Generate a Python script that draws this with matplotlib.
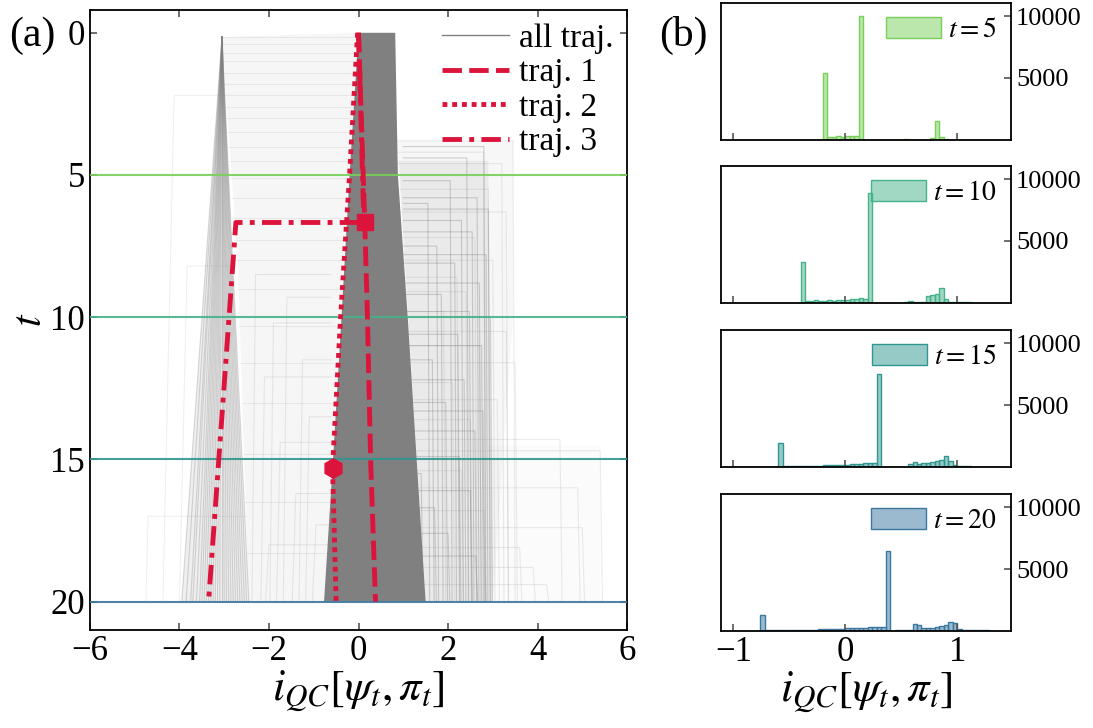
import numpy as np
import matplotlib.pyplot as plt
from matplotlib.lines import Line2D
from matplotlib.colors import to_rgba

plt.rcParams['font.family'] = ['Liberation Serif', 'DejaVu Serif']
plt.rcParams['mathtext.fontset'] = 'stix'

# ---------------- panel (a): bundle of trajectories ----
# dense central branch
core_t = [0, 5, 10, 15, 20]
core_lo = [0.0, -0.2, -0.38, -0.57, -0.77]
core_hi = [0.82, 0.88, 1.1, 1.3, 1.5]

# left branch: lines leave one apex and fan out down to t = 20
fan_apex = (-3.05, 0.15)
fan_end_x = [-3.95, -3.85, -3.75, -3.7, -3.62, -3.55, -3.5, -3.45, -3.4, -3.35,
             -3.3, -3.25, -3.2, -3.15, -3.1, -3.05, -3.0, -2.95, -2.9, -2.85,
             -2.8, -2.75, -2.7, -2.65, -2.6, -2.55, -2.5, -2.45]

# washes of faint lines
wash_left_t = [0.15, 8, 20, 20, 0]
wash_left_x = [-3.05, -2.7, -2.45, -0.77, 0.0]
wash_right_t = [3.8, 20, 20, 10, 3.8]
wash_right_x = [0.86, 1.5, 3.0, 3.45, 3.45]
band_fill_t = [4.5, 20, 20, 4.5]
band_fill_x = [0.9, 1.5, 3.0, 2.9]
far_t = [14.5, 20, 20, 14.5]
far_x = [2.9, 3.0, 5.4, 5.4]

# horizontal jumps towards the left branch
left_jump_t = [0.15, 0.4, 0.7, 1.0, 1.4, 1.8, 2.2, 2.6, 3.0, 3.5, 4.0, 4.5, 5.1,
               5.8, 6.5, 7.3, 8.0, 9.0, 10.3, 11.6, 13.0, 14.8, 16.5, 18.3]
left_jump_x0 = [-3.05, -3.05, -3.05, -3.04, -3.03, -3.02, -3.0, -2.98, -2.96,
                -2.94, -2.92, -2.9, -2.88, -2.85, -2.82, -2.8, -2.77, -2.73,
                -2.7, -2.66, -2.62, -2.58, -2.55, -2.5]
left_jump_x1 = [0.0, -0.02, -0.03, -0.04, -0.06, -0.07, -0.09, -0.1, -0.12,
                -0.14, -0.16, -0.18, -0.2, -0.23, -0.25, -0.28, -0.3, -0.34,
                -0.39, -0.44, -0.49, -0.56, -0.63, -0.7]

# trajectories that settle between the two left branches
mid_t = [8.5, 9.3, 10.2, 11.5, 12.1, 13.5, 14.4, 16.2, 17.3, 18.0]
mid_x = [-2.3, -1.6, -1.9, -1.25, -2.1, -1.1, -1.75, -1.4, -0.95, -2.0]

# horizontal jumps towards the right branch, then drift down to t = 20
right_jump_t = [3.8, 4.2, 4.6, 5.5, 6.3, 7.2, 8.0, 8.6, 9.1, 9.8, 10.5, 11.0,
                11.6, 12.3, 12.9, 13.6, 14.3, 14.7, 15.4, 16.0, 16.8, 17.4,
                18.1, 18.8, 19.4]
right_jump_x = [3.45, 2.8, 3.2, 2.9, 3.3, 2.6, 3.0, 2.2, 2.4, 1.9, 3.3, 2.7,
                3.5, 2.1, 3.1, 2.5, 4.5, 5.4, 2.3, 4.9, 2.8, 5.0, 3.6, 3.9, 4.2]
right_jump_x0 = [0.86, 0.86, 0.87, 0.88, 0.9, 0.93, 0.97, 1.0, 1.02, 1.06, 1.1,
                 1.12, 1.15, 1.18, 1.2, 1.23, 1.27, 1.29, 1.32, 1.35, 1.38, 1.4,
                 1.43, 1.45, 1.48]

# denser band of the right branch
band_x = [1.55, 1.65, 1.75, 1.85, 1.95, 2.05, 2.15, 2.22, 2.3, 2.36, 2.42, 2.48,
          2.54, 2.6, 2.65, 2.7, 2.75, 2.8, 2.85, 2.9, 2.95, 1.4, 1.7, 2.0, 2.25,
          2.5, 2.62, 2.78]
band_t = [6.0, 11.5, 7.5, 9.2, 13.0, 5.2, 8.1, 10.6, 6.6, 12.2, 4.4, 9.8, 7.0,
          14.0, 5.8, 8.8, 11.0, 4.0, 7.8, 6.2, 10.0, 15.5, 16.7, 17.6, 14.9,
          16.1, 18.4, 13.3]

# a few isolated trajectories far on the left
out_x = [[-3.0, -4.12, -4.37], [-2.8, -3.83, -4.0], [-2.5, -4.7, -4.75]]
out_t = [[2.2, 2.2, 20], [8.2, 8.2, 20], [17.0, 17.0, 20]]

# highlighted trajectories
traj1_x = [0.0, 0.14, 0.2, 0.27, 0.38]
traj1_t = [0, 6.67, 10, 15, 20]
traj2_x = [-0.02, -0.2, -0.4, -0.58, -0.5]
traj2_t = [0, 5, 10, 15.3, 20]
traj3_x = [0.0, 0.12, -2.74, -3.35]
traj3_t = [0, 6.67, 6.67, 20]
jump_square = (0.14, 6.67)
jump_hexagon = (-0.58, 15.3)

times = [5, 10, 15, 20]
time_colors = ['#78d05a', '#45b38a', '#2f9690', '#3b77a0']

# ---------------- panel (b): histograms of i_QC (60 bins on [-1, 1.4]) -----
bin_edges = np.linspace(-1.0, 1.4, 61)

counts_t5 = np.zeros(60)
counts_t5[20:29] = [5400, 230, 250, 300, 250, 300, 300, 330, 10000]
counts_t5[38] = 80
counts_t5[44:48] = [160, 1520, 270, 80]

counts_t10 = np.zeros(60)
counts_t10[15:31] = [3280, 135, 135, 215, 160, 190, 215, 190, 215, 240, 240,
                     300, 300, 375, 320, 8840]
counts_t10[34:56] = [20, 20, 20, 20, 80, 160, 50, 50, 80, 540, 620, 750, 1180,
                     300, 110, 80, 50, 40, 40, 30, 30, 20]

counts_t15 = np.zeros(60)
counts_t15[0:10] = 10
counts_t15[10:33] = [1920, 60, 60, 70, 80, 80, 90, 100, 110, 120, 130, 140, 150,
                     160, 180, 200, 215, 230, 270, 300, 310, 330, 7510]
counts_t15[33:59] = [20, 20, 20, 25, 25, 30, 215, 400, 270, 300, 320, 400, 490,
                     600, 890, 460, 135, 80, 60, 50, 40, 30, 25, 20, 20, 15]

counts_t20 = np.zeros(60)
counts_t20[0:6] = 10
counts_t20[6:35] = [1300, 60, 60, 70, 70, 80, 80, 90, 90, 100, 110, 110, 120, 130,
                    140, 150, 160, 180, 200, 210, 220, 240, 260, 280, 300, 310,
                    330, 340, 6450]
counts_t20[35:59] = [30, 60, 70, 80, 80, 545, 460, 270, 270, 270, 330, 380, 490,
                     760, 625, 135, 110, 80, 70, 60, 50, 50, 40, 40]

hist_counts = [counts_t5, counts_t10, counts_t15, counts_t20]

# ---------------- figure ----------------
fig = plt.figure(figsize=(10.93, 7.28), dpi=100)
ax = fig.add_axes([0.0823, 0.1346, 0.4914, 0.8516])

g = 'gray'
ax.fill(wash_left_x, wash_left_t, color=g, alpha=0.07, lw=0)
ax.fill(wash_right_x, wash_right_t, color=g, alpha=0.06, lw=0)
ax.fill(band_fill_x, band_fill_t, color=g, alpha=0.1, lw=0)
ax.fill(far_x, far_t, color=g, alpha=0.03, lw=0)
ax.fill([fan_apex[0], fan_end_x[0], fan_end_x[-1]], [fan_apex[1], 20, 20],
        color=g, alpha=0.12, lw=0)

for xe in fan_end_x:
    ax.plot([fan_apex[0], xe], [fan_apex[1], 20], color=g, alpha=0.3, lw=0.8)
ax.hlines(left_jump_t, left_jump_x0, left_jump_x1, color=g, alpha=0.12, lw=0.8)

for t0, x0 in zip(mid_t, mid_x):
    ax.plot([-0.6, x0, x0 - 0.08], [t0, t0, 20], color=g, alpha=0.15, lw=0.8)

for t0, xa, xb in zip(right_jump_t, right_jump_x0, right_jump_x):
    ax.plot([xa, xb, xb + 0.05], [t0, t0, 20], color=g, alpha=0.15, lw=0.8)

for x0, t0 in zip(band_x, band_t):
    ax.plot([1.0, x0, x0 + 0.04], [t0, t0, 20], color=g, alpha=0.35, lw=0.8)

for xs, ts in zip(out_x, out_t):
    ax.plot(xs, ts, color=g, alpha=0.12, lw=0.8)

ax.fill(core_lo + core_hi[::-1], core_t + core_t[::-1], color=g, lw=0)

for t, c in zip(times, time_colors):
    ax.axhline(t, color=c, lw=1.5, alpha=0.9, zorder=3)

red = '#dc143c'
ax.plot(traj1_x, traj1_t, color=red, lw=3.5, ls=(0, (4, 1.5)), zorder=5)
ax.plot(traj2_x, traj2_t, color=red, lw=3.5, ls=(0, (1, 1)), zorder=5)
ax.plot(traj3_x, traj3_t, color=red, lw=3.5, ls=(0, (4, 1.5, 1, 1.5)), zorder=5)
ax.plot(*jump_square, marker='s', ms=12, color=red, zorder=6)
ax.plot(*jump_hexagon, marker='h', ms=14, color=red, zorder=6)

handles = [Line2D([], [], color='gray', lw=1),
           Line2D([], [], color=red, lw=3.5, ls=(0, (4, 1.5))),
           Line2D([], [], color=red, lw=3.5, ls=(0, (1, 1))),
           Line2D([], [], color=red, lw=3.5, ls=(0, (4, 1.5, 1, 1.5)))]
ax.legend(handles, ['all traj.', 'traj. 1', 'traj. 2', 'traj. 3'],
          loc='upper right', frameon=False, fontsize=24, handlelength=2.0,
          labelspacing=0.12, borderaxespad=0.0, handletextpad=0.3)

ax.set_xlim(-6, 6)
ax.set_ylim(21, -0.8)
ax.set_xticks(np.arange(-6, 7, 2))
ax.set_yticks([0, 5, 10, 15, 20])
ax.tick_params(direction='in', top=True, right=True, labelsize=25,
               color='#555555', length=5, width=1.2)
ax.set_xlabel(r'$i_{QC}[\psi_t,\pi_t]$', fontsize=32, labelpad=0)
ax.set_ylabel(r'$t$', fontsize=30, labelpad=0)
for s in ax.spines.values():
    s.set_linewidth(1.3)

# histograms
panel_bottoms = [0.8077, 0.5838, 0.3585, 0.1332]
hist_axes = []
centers = 0.5 * (bin_edges[:-1] + bin_edges[1:])
for i, (cnt, t, c) in enumerate(zip(hist_counts, times, time_colors)):
    hx = fig.add_axes([0.6597, panel_bottoms[i], 0.2653, 0.1882])
    hx.hist(centers, bins=bin_edges, weights=cnt, facecolor=to_rgba(c, 0.5),
            edgecolor=c, lw=1.0, label=rf'$t = {t}$')
    hx.set_xlim(-1.11, 1.48)
    hx.set_ylim(0, 11050)
    hx.set_yticks([5000, 10000])
    hx.set_xticks([-1, 0, 1])
    hx.yaxis.tick_right()
    hx.tick_params(direction='in', labelsize=19, color='#555555', length=5, width=1.2)
    hx.tick_params(axis='x', labelsize=25)
    if i < 3:
        hx.tick_params(labelbottom=False)
    for s in hx.spines.values():
        s.set_linewidth(1.3)
    hx.legend(loc='upper right', frameon=False, fontsize=20, handlelength=2.0,
              handleheight=0.8, borderaxespad=0.1, handletextpad=0.25)
    hist_axes.append(hx)

hist_axes[-1].set_xlabel(r'$i_{QC}[\psi_t,\pi_t]$', fontsize=32, labelpad=0)

fig.text(0.008, 0.937, '(a)', fontsize=30)
fig.text(0.603, 0.937, '(b)', fontsize=30)

fig.savefig('out.png', dpi=100)
